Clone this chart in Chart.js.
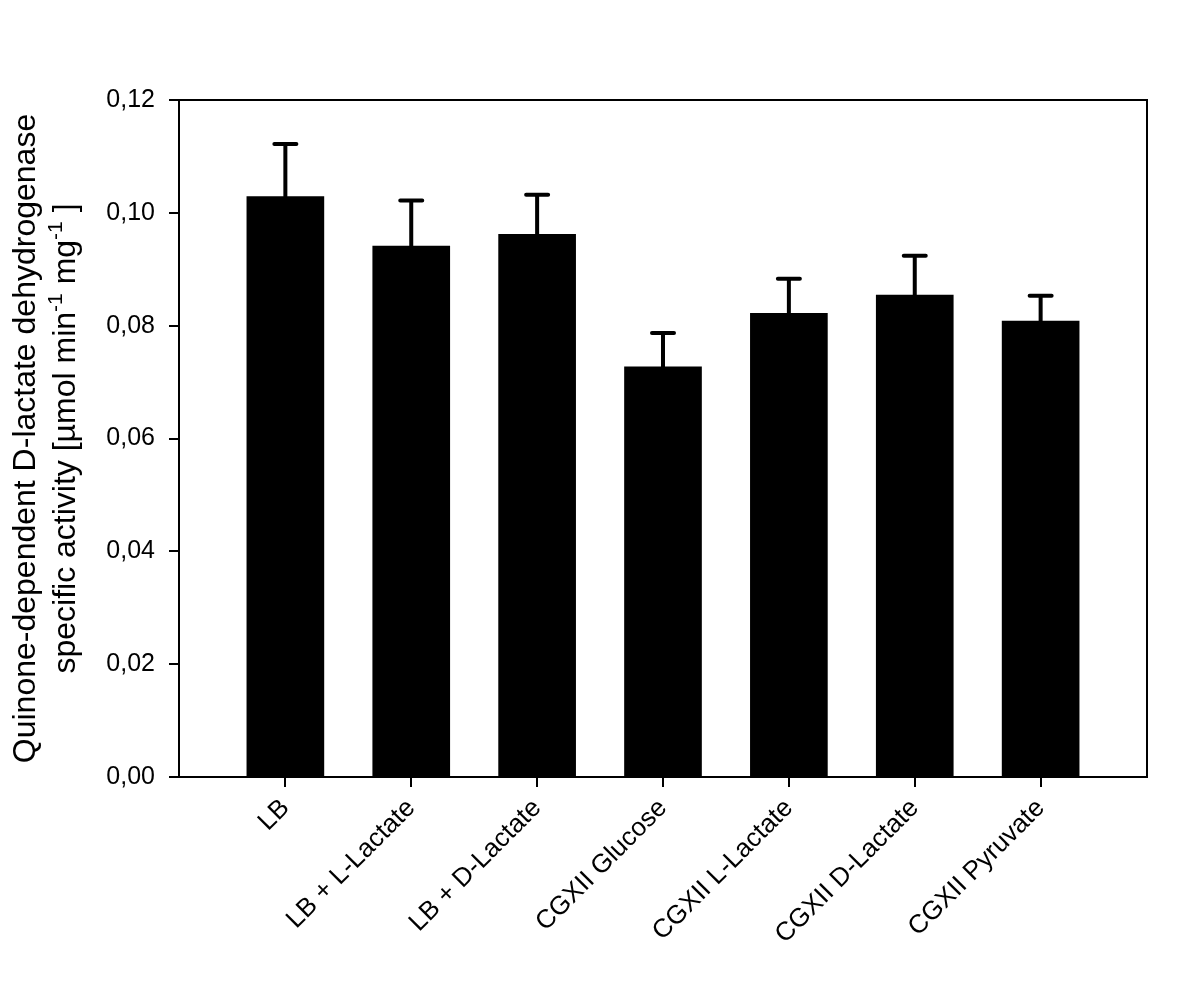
<!DOCTYPE html>
<html>
<head>
<meta charset="utf-8">
<script src="https://cdn.jsdelivr.net/npm/chart.js@4"></script>
<style>
  html, body { margin: 0; padding: 0; background: #fff; }
  #wrap { width: 1200px; height: 989px; }
</style>
</head>
<body>
<div id="wrap"><canvas id="myChart" width="1200" height="989"></canvas></div>
<script>
const categories = [
  'LB',
  'LB + L-Lactate',
  'LB + D-Lactate',
  'CGXII Glucose',
  'CGXII L-Lactate',
  'CGXII D-Lactate',
  'CGXII Pyruvate'
];
const activity = [0.1029, 0.0941, 0.0962, 0.0727, 0.0822, 0.0854, 0.0808];
const sd = [0.0093, 0.0081, 0.0070, 0.0060, 0.0061, 0.0070, 0.0045];
const yTicks = [0, 0.02, 0.04, 0.06, 0.08, 0.10, 0.12];

const FONT = '"Liberation Sans", Arial, sans-serif';
const ctx = document.getElementById('myChart').getContext('2d');

// upward error bars with caps
const errorBars = {
  id: 'errorBars',
  afterDatasetsDraw(chart) {
    const c = chart.ctx;
    const y = chart.scales.y;
    const meta = chart.getDatasetMeta(0);
    c.save();
    c.strokeStyle = '#000';
    c.lineWidth = 4;
    c.lineCap = 'round';
    meta.data.forEach((bar, i) => {
      const top = y.getPixelForValue(activity[i] + sd[i]);
      c.beginPath();
      c.moveTo(bar.x, bar.y);
      c.lineTo(bar.x, top);
      c.moveTo(bar.x - 11, top);
      c.lineTo(bar.x + 11, top);
      c.stroke();
    });
    c.restore();
  }
};

// box round the plot and the two-line y title with superscripts
const frame = {
  id: 'frame',
  afterDraw(chart) {
    const c = chart.ctx;
    const a = chart.chartArea;
    c.save();
    c.strokeStyle = '#000';
    c.lineWidth = 2;
    c.strokeRect(a.left, a.top, a.right - a.left, a.bottom - a.top);

    c.translate(0, (a.top + a.bottom) / 2);
    c.rotate(-Math.PI / 2);
    c.fillStyle = '#000';
    c.textBaseline = 'alphabetic';

    const big = '32px ' + FONT;
    const small = '21px ' + FONT;
    const line1 = [{ t: 'Quinone-dependent D-lactate dehydrogenase' }];
    const line2 = [
      { t: 'specific activity [µmol min' }, { t: '-1', sup: true },
      { t: ' mg' }, { t: '-1', sup: true }, { t: ' ]' }
    ];
    [[line1, 35], [line2, 75]].forEach(([segs, base]) => {
      let w = 0;
      segs.forEach(s => { c.font = s.sup ? small : big; w += c.measureText(s.t).width; });
      let x = -w / 2;
      segs.forEach(s => {
        c.font = s.sup ? small : big;
        c.fillText(s.t, x, s.sup ? base - 13 : base);
        x += c.measureText(s.t).width;
      });
    });
    c.restore();
  }
};

const data = {
  datasets: [{
    data: activity.map((v, i) => ({ x: i, y: v })),
    backgroundColor: '#000',
    borderWidth: 0,
    barThickness: 77
  }]
};

const config = {
  type: 'bar',
  data: data,
  options: {
    responsive: false,
    animation: false,
    layout: { padding: { left: 0, right: 53, top: 100, bottom: 0 } },
    plugins: {
      legend: { display: false },
      tooltip: { enabled: false }
    },
    scales: {
      x: {
        type: 'linear',
        min: -0.845,
        max: 6.845,
        offset: false,
        afterBuildTicks: (scale) => {
          scale.ticks = categories.map((c, i) => ({ value: i }));
        },
        afterFit: (scale) => { scale.height = 212; },
        border: { display: true, color: '#000', width: 2 },
        grid: { offset: false, drawOnChartArea: false, drawTicks: true, tickLength: 10, color: '#000', lineWidth: 2 },
        ticks: {
          color: '#000',
          font: { family: FONT, size: 26 },
          minRotation: 45,
          maxRotation: 45,
          padding: 6,
          callback: (value) => categories[value]
        }
      },
      y: {
        min: 0,
        max: 0.12,
        afterBuildTicks: (scale) => {
          scale.ticks = yTicks.map(v => ({ value: v }));
        },
        afterFit: (scale) => { scale.width = 179; },
        border: { display: true, color: '#000', width: 2 },
        grid: { drawOnChartArea: false, drawTicks: true, tickLength: 10, color: '#000', lineWidth: 2 },
        ticks: {
          color: '#000',
          font: { family: FONT, size: 25 },
          padding: 14,
          callback: (value) => value.toFixed(2).replace('.', ',')
        }
      }
    }
  },
  plugins: [errorBars, frame]
};

const myChart = new Chart(ctx, config);
</script>
</body>
</html>
